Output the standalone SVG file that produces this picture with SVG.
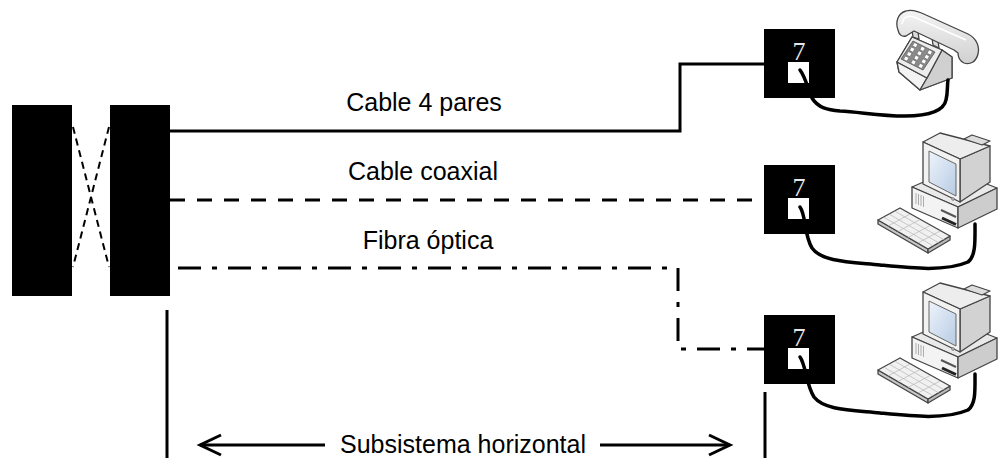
<svg xmlns="http://www.w3.org/2000/svg" xmlns:xlink="http://www.w3.org/1999/xlink" width="999" height="458" viewBox="0 0 999 458">
  <style>
    .lbl { font-family: "Liberation Sans", Arial, sans-serif; font-size: 25px; fill: #000; text-anchor: middle; }
    .blk { fill: #000; }
    .cable { fill: none; stroke: #000; stroke-width: 3; }
    .coax { stroke-dasharray: 15 12; }
    .fibre { stroke-dasharray: 23 11 5 11; }
    .cord { fill: none; stroke: #000; stroke-width: 3.5; stroke-linecap: round; stroke-linejoin: round; }
    .num { font-family: "Liberation Serif", "DejaVu Serif", serif; font-size: 26px; fill: #e6e6e6; text-anchor: middle; }
    .edge { stroke: #444; stroke-width: 1.3; stroke-linejoin: round; }
    .key { fill: #fff; stroke: #666; stroke-width: 0.6; }
  </style>
  <defs>
    <linearGradient id="screen" x1="0" y1="0" x2="1" y2="1">
      <stop offset="0" stop-color="#eef4fb"/>
      <stop offset="1" stop-color="#b7cbe4"/>
    </linearGradient>
    <linearGradient id="handset" x1="0" y1="0" x2="0" y2="1">
      <stop offset="0" stop-color="#f4f4f4"/>
      <stop offset="1" stop-color="#d0d0d0"/>
    </linearGradient>
    <rect id="pkey" x="-2" y="-2" width="4" height="4" rx="0.8" transform="rotate(27)"/>
    <!-- desktop computer, local origin at its top-left -->
    <g id="pc">
      <!-- system unit -->
      <path class="edge" d="M52,57 L91,40 L137,58 L98,77 Z" fill="#e9e9e9"/>
      <path class="edge" d="M52,57 L98,77 L98,98 L52,78 Z" fill="#f3f3f3"/>
      <path class="edge" d="M98,77 L137,58 L137,79 L98,98 Z" fill="#cdcdcd"/>
      <g stroke="#9a9a9a" stroke-width="0.8">
        <path d="M56,63 L56,74 M58.5,64 L58.5,75 M61,65 L61,76 M63.5,66 L63.5,77"/>
      </g>
      <path d="M81,80 L96,87" stroke="#555" stroke-width="2"/>
      <path d="M82,88 L96,94.5" stroke="#222" stroke-width="3"/>
      <!-- monitor -->
      <path class="edge" d="M100,29 L130,16 L130,52 L100,72 Z" fill="#d2d2d2"/>
      <path class="edge" d="M63,12 L80,3 L130,16 L100,29 Z" fill="#ededed"/>
      <path class="edge" d="M104,9 L112,5 L130,11 L122,15 Z" fill="#dcdcdc"/>
      <path class="edge" d="M63,12 L100,29 L100,72 L63,54 Z" fill="#f2f2f2"/>
      <path d="M69,21 L96,34 L96,66 L69,52 Z" fill="url(#screen)" stroke="#666" stroke-width="1"/>
      <circle cx="93" cy="69" r="1.4" fill="#bbb" stroke="#666" stroke-width="0.6"/>
      <!-- keyboard -->
      <path class="edge" d="M18,90 L68,119 L68,123 L18,94 Z" fill="#c6c6c6"/>
      <path class="edge" d="M68,119 L90,106 L90,110 L68,123 Z" fill="#b9b9b9"/>
      <path class="edge" d="M18,90 L40,78 L90,106 L68,119 Z" fill="#f1f1f1"/>
      <g stroke="#b5b5b5" stroke-width="0.7" fill="none">
        <path d="M23.5,87 L73.5,116 M29,84 L79,113 M34.5,81 L84.5,110"/>
        <path d="M28,96 L50,84 M38,101.5 L60,89.5 M48,107.5 L70,95.5 M58,113 L80,101"/>
      </g>
    </g>
  </defs>

  <!-- distribution frame -->
  <g id="frame">
    <rect class="blk" x="12" y="105" width="60" height="191"/>
    <rect class="blk" x="110" y="105" width="60" height="191"/>
    <path d="M73,127 L109,267 M109,127 L73,267" fill="none" stroke="#000" stroke-width="2" stroke-dasharray="7 5"/>
  </g>

  <!-- outlets -->
  <g id="outlet1">
    <rect class="blk" x="764" y="29" width="71" height="69"/>
    <text class="num" x="799" y="60">7</text>
    <rect x="788" y="62" width="21" height="21" fill="#fff"/>
  </g>
  <g id="outlet2">
    <rect class="blk" x="764" y="165" width="71" height="69"/>
    <text class="num" x="799" y="196">7</text>
    <rect x="788" y="198" width="21" height="21" fill="#fff"/>
  </g>
  <g id="outlet3">
    <rect class="blk" x="764" y="315" width="71" height="69"/>
    <text class="num" x="799" y="346">7</text>
    <rect x="788" y="348" width="21" height="21" fill="#fff"/>
  </g>

  <!-- telephone -->
  <g id="phone">
    <!-- base -->
    <path class="edge" d="M897,62 L912,37 L942,50 L952,57 L952,78 L920,90 L899,72 Z" fill="#e2e2e2"/>
    <path class="edge" d="M897,62 L927,78 L920,90 L899,72 Z" fill="#f3f3f3"/>
    <path class="edge" d="M927,78 L942,50 L952,57 L952,78 L920,90 Z" fill="#d0d0d0"/>
    <path class="edge" d="M897,62 L912,37 L942,50 L927,78 Z" fill="#ededed"/>
    <path d="M901,59 L913,41 L935,52 L923,70 Z" fill="#8a8a8a" stroke="#555" stroke-width="0.8"/>
    <g class="key">
      <use xlink:href="#pkey" x="915.2" y="45.1"/>
      <use xlink:href="#pkey" x="922.5" y="48.8"/>
      <use xlink:href="#pkey" x="929.8" y="52.4"/>
      <use xlink:href="#pkey" x="912.2" y="49.6"/>
      <use xlink:href="#pkey" x="919.5" y="53.3"/>
      <use xlink:href="#pkey" x="926.8" y="56.9"/>
      <use xlink:href="#pkey" x="909.2" y="54.1"/>
      <use xlink:href="#pkey" x="916.5" y="57.8"/>
      <use xlink:href="#pkey" x="923.8" y="61.4"/>
      <use xlink:href="#pkey" x="906.2" y="58.6"/>
      <use xlink:href="#pkey" x="913.5" y="62.3"/>
      <use xlink:href="#pkey" x="920.8" y="65.9"/>
    </g>
    <!-- cradle prongs -->
    <path class="edge" d="M912,30 L918,32 L919,39 L913,37 Z" fill="#dcdcdc"/>
    <path class="edge" d="M932,38 L938,41 L939,48 L933,45 Z" fill="#dcdcdc"/>
    <!-- handset -->
    <path class="edge" d="M898,30 C895,22 898,13 906,11 C912,9 918,11 926,15 L968,34 C976,38 980,46 978,54 C976,62 970,65 964,63 C960,61 958,57 958,53 L954,50 L914,31 L906,36 C902,37 899,35 898,30 Z" fill="url(#handset)"/>
    <path d="M902,24 C903,17 908,15 914,17 L966,40" fill="none" stroke="#fff" stroke-width="1.6"/>
  </g>

  <!-- computers -->
  <g id="computer1" transform="translate(860,130)">
    <use xlink:href="#pc"/>
  </g>
  <g id="computer2" transform="translate(860,280)">
    <use xlink:href="#pc"/>
  </g>

  <!-- cabling -->
  <g id="connectors">
    <path class="cable" d="M170,131 L680,131 L680,64 L764,64"/>
    <path class="cable coax" d="M170,200 L764,200"/>
    <path class="cable fibre" d="M178,268 L678,268 L678,349 L764,349"/>
    <path class="cord" d="M800,70 C806,78 808,90 812,98 C818,108 828,110 840,111 C860,112 880,116 905,116 C930,116 944,110 946,100 C948,92 947,86 948,80"/>
    <path class="cord" d="M800,207 C806,215 804,235 812,248 C822,262 850,262 880,265 C910,268 945,272 968,262 C976,256 975,240 975,224"/>
    <path class="cord" d="M800,357 C806,365 806,385 814,397 C824,410 850,410 880,413 C910,416 945,420 968,410 C976,404 975,390 975,374"/>
    <!-- span markers -->
    <path class="cable" d="M167,310 L167,458 M765,392 L765,458"/>
    <path class="cable" d="M200,445 L325,445 M600,445 L730,445"/>
    <path class="cable" d="M221,435 L200,445 L221,455 M709,435 L730,445 L709,455" stroke-linejoin="miter"/>
  </g>

  <!-- labels -->
  <g id="labels">
    <text class="lbl" x="424" y="111">Cable 4 pares</text>
    <text class="lbl" x="423" y="180">Cable coaxial</text>
    <text class="lbl" x="428" y="249">Fibra óptica</text>
    <text class="lbl" x="463" y="453">Subsistema horizontal</text>
  </g>
</svg>
